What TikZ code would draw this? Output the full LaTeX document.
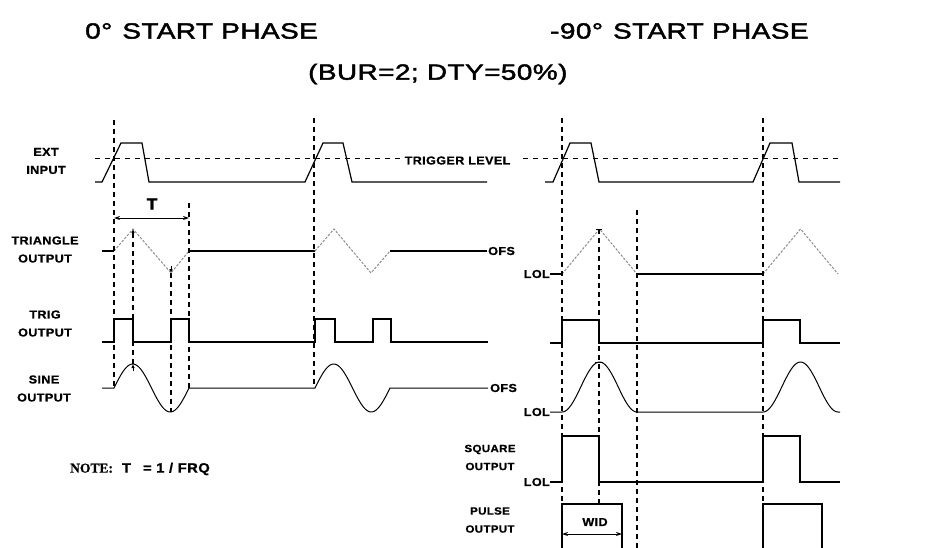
\documentclass[tikz,border=0pt]{standalone}
\usepackage{fontspec}
\setmainfont{Liberation Sans}
\newfontfamily\titlefont[FakeStretch=1.27,LetterSpace=2,FakeBold=2]{Liberation Sans}
\newfontfamily\lblfont[FakeStretch=1.1,LetterSpace=3,FakeBold=0.8]{Liberation Sans}
\newfontfamily\notefont[FakeBold=0.8]{Liberation Serif}
\usetikzlibrary{arrows.meta}
\tikzset{
  wave/.style={line width=1.2pt, line join=miter},
  sinew/.style={line width=1pt},
  tri/.style={black!45, line width=1pt, dash pattern=on 2.5pt off 1.5pt},
  vdash/.style={line width=1.1pt, dash pattern=on 5pt off 4pt},
  hdash/.style={line width=1pt, dash pattern=on 5pt off 5pt},
  lbl/.style={font=\lblfont\bfseries\fontsize{11.5}{18}\selectfont, align=center, inner sep=0pt},
  ttl/.style={font=\titlefont\fontsize{22}{25}\selectfont, inner sep=0pt, anchor=west},
  dimarr/.style={line width=1pt, {Stealth[length=6pt,width=4pt]}-{Stealth[length=6pt,width=4pt]}},
  pkmark/.style={line width=0.8pt, -{Latex[length=4pt,width=3.5pt]}}
}
\begin{document}
\begin{tikzpicture}[x=1pt,y=-1pt]
\useasboundingbox (0,0) rectangle (936,548);
% titles
\node[ttl] (t1) at (85,31) {0°\hspace{10pt}START PHASE};
\node[ttl] (t2) at (550,31) {-90°\hspace{10pt}START PHASE};
\node[ttl] (t3) at (308,74) {(BUR=2; DTY=50\%)};
% left labels
\node[lbl] (lext) at (46,161) {EXT\\INPUT};
\node[lbl] (ltri) at (45,249.5) {TRIANGLE\\OUTPUT};
\node[lbl] (ltrig) at (45,323.5) {TRIG\\OUTPUT};
\node[lbl] (lsine) at (44,388.5) {SINE\\OUTPUT};
\node[lbl, font=\lblfont\bfseries\fontsize{10.5}{18}\selectfont] (lsq) at (490,457.5) {SQUARE\\OUTPUT};
\node[lbl, font=\lblfont\bfseries\fontsize{10.5}{18}\selectfont] (lpul) at (490,520) {PULSE\\OUTPUT};
\node[lbl, anchor=west, font=\lblfont\bfseries\fontsize{13.5}{16}\selectfont] (note) at (70,469) {{\notefont\bfseries NOTE:}\hspace{9pt}T\hspace{12pt}= 1 / FRQ};
% trigger level
\node[lbl] (trl) at (457.5,160.5) {TRIGGER LEVEL};
\draw[hdash] (95,159) -- (400,159);
\draw[hdash] (523,159) -- (842,159);
% EXT input
\draw[wave] (95,182) -- (102,182) -- (121,143) -- (142,143) -- (149,182) -- (305,182) -- (323,143) -- (343,143) -- (352,182) -- (487,182);
\draw[wave] (545,182) -- (553,182) -- (570,143) -- (591,143) -- (599,182) -- (753,182) -- (770,143) -- (792,143) -- (799,182) -- (840,182);
% triangle left
\draw[wave] (102,251) -- (114,251);
\draw[tri] (114,251) -- (133,229) -- (171,273) -- (189,251);
\draw[wave] (189,251) -- (315,251);
\draw[tri] (315,251) -- (334,229) -- (371,273) -- (390,251);
\draw[wave] (390,251) -- (487,251);
\node[lbl, anchor=west] (ofs1) at (488,251) {OFS};
% triangle right
\node[lbl, anchor=east] (lol1) at (550,274) {LOL};
\draw[wave] (550,274) -- (562,274);
\draw[tri] (562,274) -- (599.5,229) -- (637,274);
\draw[wave] (637,274) -- (763,274);
\draw[tri] (763,274) -- (800.5,229) -- (838,274);
% trig left
\draw[wave] (102,342) -- (114,342) -- (114,319) -- (133,319) -- (133,342) -- (171,342) -- (171,319) -- (189,319) -- (189,342) -- (315,342) -- (315,319) -- (335,319) -- (335,342) -- (373,342) -- (373,319) -- (391,319) -- (391,342) -- (488,342);
% trig right
\draw[wave] (550,343) -- (562,343) -- (562,320) -- (599,320) -- (599,343) -- (763,343) -- (763,320) -- (800,320) -- (800,343) -- (840,343);
% sine left
\draw[sinew] (102,388) -- (114,388) -- plot[domain=0:75,samples=50,smooth] ({114+\x},{388-24*sin(4.8*\x)}) -- (315,388) -- plot[domain=0:75,samples=50,smooth] ({315+\x},{388-24*sin(4.8*\x)}) -- (488,388);
\node[lbl, anchor=west] (ofs2) at (490,388) {OFS};
% sine right
\node[lbl, anchor=east] (lol2) at (550,412) {LOL};
\draw[sinew] (550,412) -- (562,412) -- plot[domain=0:75,samples=50,smooth] ({562+\x},{412-25*(1-cos(4.8*\x))}) -- (763,412) -- plot[domain=0:75,samples=50,smooth] ({763+\x},{412-25*(1-cos(4.8*\x))}) -- (840,412);
% square right
\node[lbl, anchor=east] (lol3) at (550,482) {LOL};
\draw[wave] (550,482) -- (562,482) -- (562,436) -- (599,436) -- (599,482) -- (763,482) -- (763,436) -- (800,436) -- (800,482) -- (840,482);
% pulse right
\draw[wave] (562,548) -- (562,504) -- (622,504) -- (622,548);
\draw[wave] (763,548) -- (763,504) -- (822,504) -- (822,548);
% vertical dashed lines
\draw[vdash] (114,120) -- (114,388);
\draw[vdash] (133,233) -- (133,364);
\draw[vdash] (171,273) -- (171,412);
\draw[vdash] (189,203) -- (189,388);
\draw[vdash] (314,118) -- (314,388);
\draw[vdash] (562,118) -- (562,504);
\draw[vdash] (599,229) -- (599,504);
\draw[vdash] (637,210) -- (637,548);
\draw[vdash] (763,118) -- (763,504);
% peak markers
\draw[pkmark] (133,238) -- (133,229);
\draw[pkmark] (171,266) -- (171,273);
\draw[pkmark] (133,371) -- (133,364);
\draw[line width=0.8pt] (595,362) -- (603,362);
\draw[line width=0.8pt] (596,229) -- (602,229);
% T dimension
\node[lbl, font=\lblfont\bfseries\fontsize{16}{18}\selectfont] (tlab) at (152,204) {T};
\draw[dimarr] (114,218) -- (189,218);
% WID dimension
\node[lbl] (wid) at (595,522) {WID};
\draw[dimarr] (562,534) -- (622,534);
\end{tikzpicture}
\end{document}
